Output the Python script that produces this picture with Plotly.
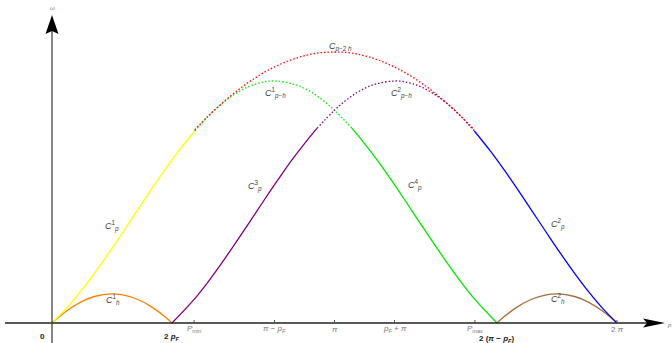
import plotly.graph_objects as go

# x in units of pi, y = omega (arbitrary units)
PF = 0.2124
P_MIN = 0.503
P_MAX = 1.497

yellow_x = [0, 0.05, 0.1, 0.15, 0.2, 0.25, 0.3, 0.35, 0.4, 0.45, 0.505]
yellow_y = [0, 14.4, 31.1, 49.7, 69.6, 90.5, 111.7, 132.9, 153.3, 172.6, 192.0]

green_dot_x = [0.505, 0.55, 0.6, 0.65, 0.7, 0.75, 0.7876, 0.85, 0.9, 0.95, 1.0, 1.062]
green_dot_y = [192.0, 205.9, 219.1, 229.4, 236.9, 241.1, 242.0, 239.3, 233.7, 224.7, 212.8, 194.6]

green_x = [1.062, 1.1, 1.15, 1.2, 1.25, 1.3, 1.35, 1.4, 1.45, 1.5, 1.5752]
green_y = [194.6, 181.7, 163.3, 143.3, 122.5, 101.2, 80.1, 59.6, 40.2, 22.6, 0]

purple_x = [0.4248, 0.5, 0.55, 0.6, 0.65, 0.7, 0.75, 0.8, 0.85, 0.9, 0.938]
purple_y = [0, 22.6, 40.2, 59.6, 80.1, 101.2, 122.5, 143.3, 163.3, 181.7, 194.6]

purple_dot_x = [0.938, 1.0, 1.05, 1.1, 1.15, 1.2124, 1.25, 1.3, 1.35, 1.4, 1.45, 1.495]
purple_dot_y = [194.6, 212.8, 224.7, 233.7, 239.3, 242.0, 241.1, 236.9, 229.4, 219.1, 205.9, 192.0]

blue_x = [1.495, 1.55, 1.6, 1.65, 1.7, 1.75, 1.8, 1.85, 1.9, 1.95, 2.0]
blue_y = [192.0, 172.6, 153.3, 132.9, 111.7, 90.5, 69.6, 49.7, 31.1, 14.4, 0]

red_x = [0.505, 0.55, 0.6, 0.65, 0.7, 0.75, 0.8, 0.85, 0.9, 0.95, 1.0,
         1.05, 1.1, 1.15, 1.2, 1.25, 1.3, 1.35, 1.4, 1.45, 1.495]
red_y = [193.1, 206.1, 219.2, 231.1, 241.5, 250.4, 257.7, 263.5, 267.7, 270.3, 271.0,
         270.3, 267.7, 263.5, 257.7, 250.4, 241.5, 231.1, 219.2, 206.1, 193.1]

hole1_x = [0, 0.05, 0.1, 0.15, 0.2124, 0.25, 0.3, 0.35, 0.4, 0.4248]
hole1_y = [0, 11.8, 20.7, 26.5, 29.1, 28.1, 24.0, 16.6, 6.2, 0]

hole2_x = [1.5752, 1.6, 1.65, 1.7, 1.75, 1.7876, 1.85, 1.9, 1.95, 2.0]
hole2_y = [0, 6.2, 16.6, 24.0, 28.1, 29.1, 26.5, 20.7, 11.8, 0]

tick_vals = [P_MIN, 1 - PF, 1.0, 1 + PF, P_MAX, 2.0]
tick_text = ["<i>P</i><sub>min</sub>", "<i>π − p<sub>F</sub></i>", "<i>π</i>",
             "<i>p<sub>F</sub> + π</i>", "<i>P</i><sub>max</sub>", "2 <i>π</i>"]

curve_labels = [
    (1.0195, 276, "<i>C</i><sub><i>p</i>−2 <i>h</i></sub>"),
    (0.7929, 230, "<i>C</i><sup>1</sup><sub><i>p</i>−<i>h</i></sub>"),
    (1.2389, 230, "<i>C</i><sup>2</sup><sub><i>p</i>−<i>h</i></sub>"),
    (0.7186, 137, "<i>C</i><sup>3</sup><sub><i>p</i></sub>"),
    (1.2850, 138, "<i>C</i><sup>4</sup><sub><i>p</i></sub>"),
    (0.2124, 97, "<i>C</i><sup>1</sup><sub><i>p</i></sub>"),
    (1.7912, 99, "<i>C</i><sup>2</sup><sub><i>p</i></sub>"),
    (0.2159, 24, "<i>C</i><sup>1</sup><sub><i>h</i></sub>"),
    (1.7912, 25, "<i>C</i><sup>2</sup><sub><i>h</i></sub>"),
]

fig = go.Figure()

def add(x, y, color, dash="solid"):
    fig.add_trace(go.Scatter(x=x, y=y, mode="lines", line_shape="spline",
                             line=dict(color=color, width=1.3, dash=dash),
                             hoverinfo="skip"))

DOT = "1.5px,2px"
add(hole1_x, hole1_y, "rgb(255,128,0)")
add(hole2_x, hole2_y, "rgb(165,110,60)")
add(yellow_x, yellow_y, "rgb(255,255,0)")
add(purple_x, purple_y, "rgb(128,0,128)")
add(green_x, green_y, "rgb(0,230,0)")
add(blue_x, blue_y, "rgb(0,0,255)")
add(green_dot_x, green_dot_y, "rgb(0,235,0)", DOT)
add(purple_dot_x, purple_dot_y, "rgb(128,0,128)", DOT)
add(red_x, red_y, "rgb(255,0,0)", DOT)

SX = 282.5  # pixels per unit of x (for decoration sizes)
shapes = []
# axes
shapes.append(dict(type="line", x0=-47 / SX, x1=(648 - 52) / SX, y0=0, y1=0,
                   line=dict(color="#222", width=1.3)))
shapes.append(dict(type="line", x0=0, x1=0, y0=-25, y1=295,
                   line=dict(color="#444", width=1.3)))
# arrowheads
tipx = (665 - 52) / SX
shapes.append(dict(type="path",
                   path=f"M {tipx} 0 L {tipx - 22 / SX} 4.5 L {tipx - 18 / SX} 0 L {tipx - 22 / SX} -4.5 Z",
                   fillcolor="black", line=dict(width=0)))
shapes.append(dict(type="path",
                   path=f"M 0 308 L {6.5 / SX} 289 L 0 292 L {-6.5 / SX} 289 Z",
                   fillcolor="black", line=dict(width=0)))
# tick marks
for tv in tick_vals:
    shapes.append(dict(type="line", x0=tv, x1=tv, y0=0, y1=3,
                       line=dict(color="#555", width=1)))

annotations = []
for tv, tt in zip(tick_vals, tick_text):
    annotations.append(dict(x=tv, y=-6, text=tt, showarrow=False,
                            font=dict(family="Liberation Sans", size=8, color="#777")))
for x, y, t in curve_labels:
    annotations.append(dict(x=x, y=y, text=t, showarrow=False,
                            font=dict(family="Liberation Sans", size=9, color="#444")))
annotations += [
    dict(x=-0.0354, y=-13, text="<b>0</b>", showarrow=False,
         font=dict(family="Liberation Sans", size=8, color="#222")),
    dict(x=2 * PF, y=-14, text="<b>2 <i>p<sub>F</sub></i></b>", showarrow=False,
         font=dict(family="Liberation Sans", size=8, color="#222")),
    dict(x=2 - 2 * PF, y=-16, text="<b>2 (<i>π</i> − <i>p<sub>F</sub></i>)</b>", showarrow=False,
         font=dict(family="Liberation Sans", size=8, color="#222")),
    dict(x=0, y=315, text="<i>ω</i>", showarrow=False,
         font=dict(family="Liberation Sans", size=6, color="#777")),
    dict(x=(669 - 52) / SX, y=-2, text="<i>p</i>", showarrow=False,
         font=dict(family="Liberation Sans", size=6, color="#777")),
]

fig.update_layout(
    width=672, height=343,
    margin=dict(l=0, r=0, t=0, b=0),
    paper_bgcolor="white", plot_bgcolor="white",
    showlegend=False,
    xaxis=dict(visible=False, range=[-52 / SX, 620 / SX]),
    yaxis=dict(visible=False, range=[-20, 323]),
    shapes=shapes, annotations=annotations,
)

fig.write_html("out.html", config={"displayModeBar": False},
               post_script="document.body.style.margin='0';document.body.style.overflow='hidden';")
